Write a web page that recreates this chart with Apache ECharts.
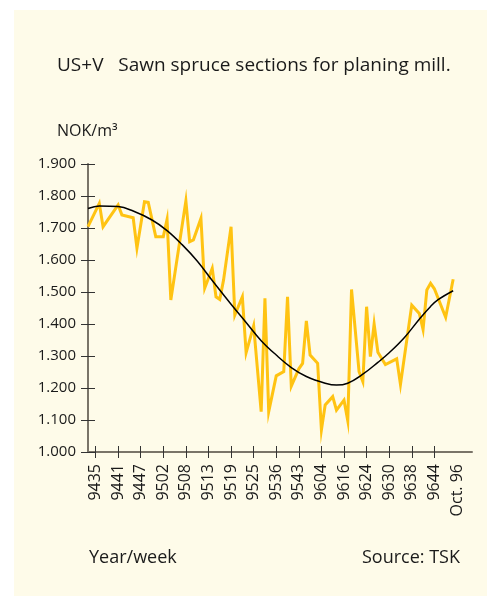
<!DOCTYPE html>
<html>
<head>
<meta charset="utf-8">
<script src="https://cdn.jsdelivr.net/npm/echarts@6/dist/echarts.min.js"></script>
<style>
  html, body { margin: 0; padding: 0; background: #ffffff; }
  #chart { width: 487px; height: 596px; }
</style>
</head>
<body>
<div id="chart"></div>
<script>
// week labels shown under the axis, one every 6 observations
const tickLabels = ['9435', '9441', '9447', '9502', '9508', '9513', '9519', '9525',
  '9536', '9543', '9604', '9616', '9624', '9630', '9638', '9644'];
const endLabel = 'Oct. 96';
const slotCount = 103;   // observation slots along the x axis
const firstTickSlot = 2;
const tickStep = 6;
const endLabelSlot = 98;

// price turning points (slot, NOK/m3)
const priceSlot = [0, 3, 4, 8, 9, 12, 13, 15, 16, 18, 20, 21, 22, 26, 27, 28, 30, 31, 33, 34,
  35, 36, 38, 39, 41, 42, 44, 46, 47, 48, 50, 52, 53, 54, 56, 57, 58, 59, 61, 62,
  63, 65, 66, 68, 69, 70, 72, 73, 74, 75, 76, 77, 79, 82, 83, 86, 88, 89, 90, 91,
  92, 95, 97];
const priceVal = [1.704, 1.777, 1.704, 1.772, 1.741, 1.732, 1.637, 1.782, 1.780, 1.673,
  1.673, 1.727, 1.475, 1.785, 1.657, 1.663, 1.730, 1.512, 1.574, 1.485,
  1.477, 1.537, 1.704, 1.428, 1.485, 1.310, 1.394, 1.126, 1.480, 1.126,
  1.238, 1.251, 1.485, 1.206, 1.260, 1.277, 1.410, 1.303, 1.277, 1.069,
  1.147, 1.173, 1.131, 1.162, 1.098, 1.508, 1.251, 1.220, 1.454, 1.298,
  1.400, 1.312, 1.273, 1.291, 1.211, 1.459, 1.433, 1.383, 1.506, 1.527,
  1.510, 1.421, 1.540];

// trend curve samples (slot, NOK/m3)
const trendSlot = [0, 3, 8, 12, 17, 21, 25, 29, 33, 38, 42, 46, 50, 54, 58, 63, 66, 69, 73,
  77, 80, 84, 88, 91, 93, 97];
const trendVal = [1.761, 1.769, 1.767, 1.753, 1.725, 1.692, 1.648, 1.597, 1.536, 1.462,
  1.405, 1.348, 1.303, 1.264, 1.236, 1.215, 1.209, 1.215, 1.243, 1.280,
  1.310, 1.357, 1.415, 1.455, 1.476, 1.504];

const categories = [];
for (let i = 0; i < slotCount; i++) {
  const k = (i - firstTickSlot) / tickStep;
  if (i >= firstTickSlot && Number.isInteger(k) && k < tickLabels.length) categories.push(tickLabels[k]);
  else if (i === endLabelSlot) categories.push(endLabel);
  else categories.push('');
}
const isTick = (i) => i >= firstTickSlot && (i - firstTickSlot) % tickStep === 0 &&
  (i - firstTickSlot) / tickStep < tickLabels.length;

const priceData = priceSlot.map((s, i) => [s, priceVal[i]]);
const trendData = trendSlot.map((s, i) => [s, trendVal[i]]);

const font = '"Open Sans", sans-serif';
const textColor = '#1a1a1a';
const axisColor = '#7a7468';
const tickColor = '#333333';

const chart = echarts.init(document.getElementById('chart'));
const option = {
  animation: false,
  backgroundColor: '#ffffff',
  textStyle: { fontFamily: font },
  graphic: [
    { type: 'rect', z: -10, shape: { x: 14, y: 10, width: 473, height: 586 }, style: { fill: '#fefbe9' } },
    { type: 'text', x: 57, y: 66, style: { text: 'US+V   Sawn spruce sections for planing mill.', font: '19px ' + font, fill: textColor, textVerticalAlign: 'middle' } },
    { type: 'text', x: 57, y: 131, style: { text: 'NOK/m³', font: '16px ' + font, fill: textColor, textVerticalAlign: 'middle' } },
    { type: 'text', x: 89, y: 558, style: { text: 'Year/week', font: '18px ' + font, fill: textColor, textVerticalAlign: 'middle' } },
    { type: 'text', x: 460, y: 558, style: { text: 'Source: TSK', font: '18px ' + font, fill: textColor, textAlign: 'right', textVerticalAlign: 'middle' } }
  ],
  grid: { left: 88, top: 164, width: 384, height: 288 },
  xAxis: [
    {
      type: 'category', data: categories, boundaryGap: false,
      axisLine: { lineStyle: { color: axisColor, width: 2 } },
      axisTick: { length: 6, interval: (i) => isTick(i), lineStyle: { color: tickColor } },
      axisLabel: {
        interval: (i, v) => v !== '', rotate: 90, margin: 12,
        color: textColor, fontSize: 16, fontFamily: font
      },
      splitLine: { show: false }
    },
    {
      type: 'category', data: categories, boundaryGap: false, position: 'bottom',
      axisLine: { show: false },
      axisTick: { inside: true, length: 6, interval: (i) => isTick(i), lineStyle: { color: tickColor } },
      axisLabel: { show: false },
      splitLine: { show: false }
    }
  ],
  yAxis: [
    {
      type: 'value', min: 1.0, max: 1.9, interval: 0.1,
      axisLine: { show: true, lineStyle: { color: axisColor, width: 2 } },
      axisTick: { show: true, length: 7, lineStyle: { color: tickColor } },
      axisLabel: {
        margin: 12, color: textColor, fontSize: 15, fontFamily: font,
        formatter: (v) => v.toFixed(3)
      },
      splitLine: { show: false }
    },
    {
      type: 'value', min: 1.0, max: 1.9, interval: 0.1, position: 'left',
      axisLine: { show: false },
      axisTick: { show: true, inside: true, length: 7, lineStyle: { color: tickColor } },
      axisLabel: { show: false },
      splitLine: { show: false }
    }
  ],
  series: [
    {
      name: 'price', type: 'line', data: priceData, symbol: 'none',
      lineStyle: { color: '#ffc312', width: 3, join: 'miter' }
    },
    {
      name: 'trend', type: 'line', data: trendData, symbol: 'none', smooth: 0.4,
      lineStyle: { color: '#000000', width: 1.5 }
    }
  ]
};
chart.setOption(option);
</script>
</body>
</html>
